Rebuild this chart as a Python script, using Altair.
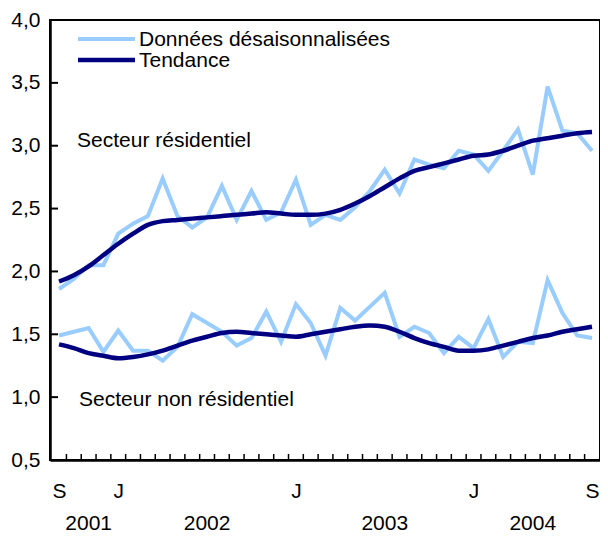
import altair as alt
import pandas as pd

# ---- data ----
months = list(range(37))  # 0 = Sep 2001 ... 36 = Sep 2004
month_tick_values = [0, 4, 16, 28, 36]
month_tick_labels = ["S", "J", "J", "J", "S"]
year_labels = ["2001", "2002", "2003", "2004"]
year_mid_months = [2, 10, 22, 32]
y_tick_values = [0.5, 1.0, 1.5, 2.0, 2.5, 3.0, 3.5, 4.0]
series_names = ["Données désaisonnalisées", "Tendance"]
sector_names = ["Secteur résidentiel", "Secteur non résidentiel"]

res_raw = [1.86, 1.94, 2.05, 2.05, 2.30, 2.38, 2.44, 2.74, 2.44, 2.35, 2.43, 2.68,
           2.41, 2.64, 2.41, 2.47, 2.73, 2.37, 2.45, 2.41, 2.51, 2.64, 2.81, 2.62,
           2.89, 2.85, 2.82, 2.96, 2.93, 2.80, 2.96, 3.13, 2.77, 3.47, 3.12, 3.10, 2.96]
res_trend = [1.92, 1.97, 2.04, 2.13, 2.22, 2.30, 2.37, 2.40, 2.41, 2.42, 2.43, 2.44,
             2.45, 2.46, 2.47, 2.46, 2.45, 2.45, 2.46, 2.49, 2.54, 2.60, 2.67, 2.74,
             2.80, 2.83, 2.86, 2.89, 2.92, 2.93, 2.96, 3.00, 3.04, 3.06, 3.08, 3.10, 3.11]
nonres_raw = [1.49, 1.52, 1.55, 1.36, 1.53, 1.37, 1.37, 1.29, 1.40, 1.66, 1.59, 1.52,
              1.41, 1.47, 1.68, 1.44, 1.74, 1.59, 1.33, 1.71, 1.61, 1.72, 1.83, 1.48,
              1.56, 1.51, 1.35, 1.48, 1.39, 1.62, 1.32, 1.44, 1.43, 1.93, 1.67, 1.49, 1.47]
nonres_trend = [1.42, 1.39, 1.35, 1.33, 1.31, 1.32, 1.34, 1.37, 1.41, 1.45, 1.48, 1.51,
                1.52, 1.51, 1.50, 1.49, 1.48, 1.50, 1.52, 1.54, 1.56, 1.57, 1.56, 1.52,
                1.47, 1.43, 1.40, 1.37, 1.37, 1.38, 1.41, 1.44, 1.47, 1.49, 1.52, 1.54, 1.56]

# ---- styling ----
LIGHT = "#99CCFF"
DARK = "#000080"
FONT = "Liberation Sans"
W, H = 550, 440
FS = 21

rows = []
for sector, raw, trend in [(sector_names[0], res_raw, res_trend),
                           (sector_names[1], nonres_raw, nonres_trend)]:
    for m, r, t in zip(months, raw, trend):
        rows.append({"month": m, "value": r, "series": series_names[0], "sector": sector})
        rows.append({"month": m, "value": t, "series": series_names[1], "sector": sector})
df = pd.DataFrame(rows)

xscale = alt.Scale(domain=[-0.61, 36.54], nice=False, zero=False)
yscale = alt.Scale(domain=[0.5, 4.0], nice=False, zero=False)

label_expr = "".join(
    f"datum.value == {v} ? '{l}' : " for v, l in zip(month_tick_values, month_tick_labels)
) + "''"

x_axis = alt.Axis(values=month_tick_values, labelExpr=label_expr, ticks=False,
                  tickSize=0, grid=False, labelPadding=20, labelFontSize=FS,
                  domainWidth=2.5, domainColor="black", labelColor="black",
                  labelFont=FONT, labelFlush=False, title=None)
y_axis = alt.Axis(values=y_tick_values,
                  labelExpr="replace(format(datum.value, '.1f'), '.', ',')",
                  ticks=False, tickSize=0, grid=False, labelPadding=10,
                  labelFontSize=FS, domainWidth=2.5, domainColor="black",
                  labelColor="black", labelFont=FONT, labelFlush=False, title=None)


def X(field):
    return alt.X(field, scale=xscale, axis=x_axis, title=None)


def Y(field):
    return alt.Y(field, scale=yscale, axis=y_axis, title=None)


raw_layer = alt.Chart(df[df.series == series_names[0]]).mark_line(
    color=LIGHT, strokeWidth=4, strokeJoin="miter"
).encode(x=X("month:Q"), y=Y("value:Q"), detail="sector:N")

trend_layer = alt.Chart(df[df.series == series_names[1]]).mark_line(
    color=DARK, strokeWidth=4.5, interpolate="monotone"
).encode(x=X("month:Q"), y=Y("value:Q"), detail="sector:N")

# inward ticks: x ticks at month boundaries, y ticks at each tick value
xt = pd.DataFrame({"month": [m + 0.5 for m in months[:-1]]})
xtick_layer = alt.Chart(xt).mark_rule(color="black", strokeWidth=1.5).encode(
    x=X("month:Q"), y=alt.value(H), y2=alt.value(H - 6))

yt = pd.DataFrame({"value": y_tick_values[1:-1]})
ytick_layer = alt.Chart(yt).mark_rule(color="black", strokeWidth=2).encode(
    y=Y("value:Q"), x=alt.value(0), x2=alt.value(8))

# year labels centred under each year's span
yr = pd.DataFrame({"month": year_mid_months, "year": year_labels})
year_layer = alt.Chart(yr).mark_text(fontSize=FS, font=FONT, color="black",
                                     baseline="middle").encode(
    x=X("month:Q"), y=alt.value(H + 64), text="year:N")

# legend
leg = pd.DataFrame({"series": series_names})
leg_rule_light = alt.Chart(leg.iloc[[0]]).mark_rule(color=LIGHT, strokeWidth=4).encode(
    x=alt.value(28), x2=alt.value(85), y=alt.value(19))
leg_rule_dark = alt.Chart(leg.iloc[[1]]).mark_rule(color=DARK, strokeWidth=4.5).encode(
    x=alt.value(28), x2=alt.value(85), y=alt.value(40))
leg_text_1 = alt.Chart(leg.iloc[[0]]).mark_text(
    fontSize=FS, font=FONT, align="left", baseline="middle", color="black").encode(
    x=alt.value(89), y=alt.value(20), text="series:N")
leg_text_2 = alt.Chart(leg.iloc[[1]]).mark_text(
    fontSize=FS, font=FONT, align="left", baseline="middle", color="black").encode(
    x=alt.value(89), y=alt.value(41), text="series:N")

sec = pd.DataFrame({"sector": sector_names})
sec_text_1 = alt.Chart(sec.iloc[[0]]).mark_text(
    fontSize=FS, font=FONT, align="left", baseline="middle", color="black").encode(
    x=alt.value(27), y=alt.value(121), text="sector:N")
sec_text_2 = alt.Chart(sec.iloc[[1]]).mark_text(
    fontSize=FS, font=FONT, align="left", baseline="middle", color="black").encode(
    x=alt.value(29), y=alt.value(380), text="sector:N")

chart = alt.layer(
    raw_layer, trend_layer, xtick_layer, ytick_layer, year_layer,
    leg_rule_light, leg_rule_dark, leg_text_1, leg_text_2, sec_text_1, sec_text_2
).properties(
    width=W, height=H,
    autosize=alt.AutoSizeParams(type="none"),
    padding={"left": 42, "top": 12, "right": 0, "bottom": 73},
    background="white",
).configure_view(
    stroke="black", strokeWidth=2
).configure_text(font=FONT)

chart.save("out.html", embed_options={"renderer": "svg", "actions": False})
